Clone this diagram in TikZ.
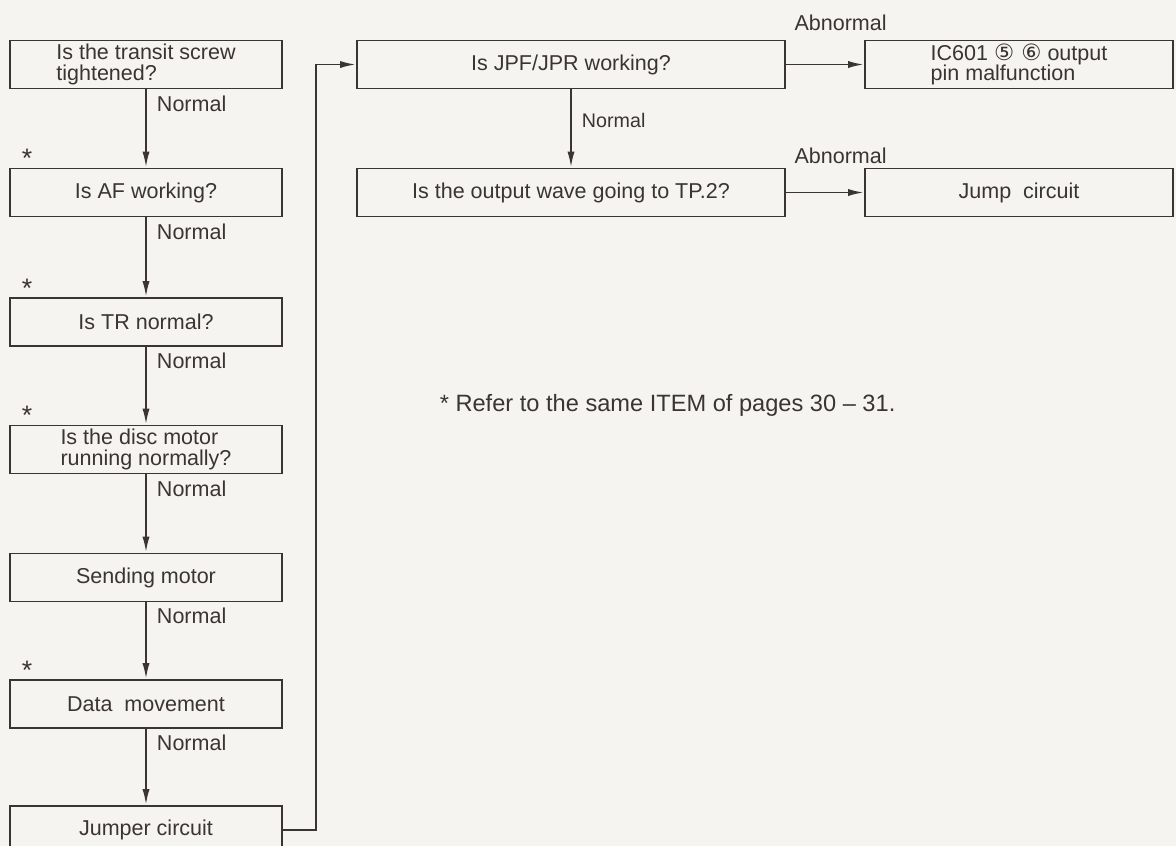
\documentclass[tikz,border=0pt]{standalone}
\usepackage{fontspec}
\setmainfont{Liberation Sans}
\newfontfamily\circfont{DejaVu Sans}
\usetikzlibrary{arrows.meta,positioning}
\definecolor{ink}{RGB}{58,52,50}
\definecolor{paper}{RGB}{246,244,240}

\begin{document}
\begin{tikzpicture}[x=1cm, y=1cm,
  box/.style={draw=ink, line width=1.4pt, align=center, text=ink,
              font=\fontsize{15.3}{14.5}\selectfont,
              minimum width=6.8cm, minimum height=1.2cm, inner sep=2pt},
  arr/.style={-{Latex[length=4mm, width=1.8mm]}, draw=ink, line width=1.4pt},
  lbl/.style={font=\fontsize{15.3}{17}\selectfont, text=ink, inner sep=0pt},
  star/.style={font=\fontsize{19}{19}\selectfont, text=ink, inner sep=0pt}
]
\fill[paper] (0,0) rectangle (29.4,-21.15);
\clip (0,0) rectangle (29.4,-21.15);
% left column
\node[box, align=left] (screw) at (3.65,-1.6125) {Is the transit screw\\tightened?};
\node[box] (af) at (3.65,-4.8125) {Is AF working?};
\node[box] (tr) at (3.65,-8.05) {Is TR normal?};
\node[box, align=left] (disc) at (3.65,-11.2375) {Is the disc motor\\running normally?};
\node[box] (send) at (3.65,-14.4375) {Sending motor};
\node[box] (data) at (3.65,-17.6) {Data~~movement};
\node[box] (jumper) at (3.65,-20.75) {Jumper circuit};
% right part
\node[box, minimum width=10.7cm] (jpf) at (14.275,-1.6125) {Is JPF/JPR working?};
\node[box, minimum width=10.7cm] (wave) at (14.275,-4.8125) {Is the output wave going to TP.2?};
\node[box, align=left, minimum width=7.7cm] (ic) at (25.475,-1.6125)
  {IC601 {\circfont\fontsize{16}{14}\selectfont ⑤ ⑥} output\\pin malfunction};
\node[box, minimum width=7.7cm] (jump) at (25.475,-4.8125) {Jump~~circuit};
% stars
\foreach \b in {af, tr, disc, data}
  \node[star] (star-\b) at ([xshift=0.45cm, yshift=0.22cm]\b.north west) {*};
\node[lbl, font=\fontsize{16.8}{18}\selectfont] (note) at (16.69,-10.125) {* Refer to the same ITEM of pages 30 -- 31.};
% connectors
\foreach \a/\b in {screw/af, af/tr, tr/disc, disc/send, send/data, data/jumper}
  \draw[arr] (\a) -- node[lbl, pos=0.18, right=2.5mm] (nrm-\a) {Normal} (\b);
\draw[arr] (jumper.east) -- ++(0.825,0) |- (jpf.west);
\draw[arr] (jpf) -- node[lbl, pos=0.4, right=2.5mm, font=\fontsize{14}{16}\selectfont] (nrm-jpf) {Normal} (wave);
\draw[arr] (jpf) -- node[lbl, pos=0.7, above=8.2mm] (abn-jpf) {Abnormal} (ic);
\draw[arr] (wave) -- node[lbl, pos=0.7, above=7mm] (abn-wave) {Abnormal} (jump);
\end{tikzpicture}
\end{document}
